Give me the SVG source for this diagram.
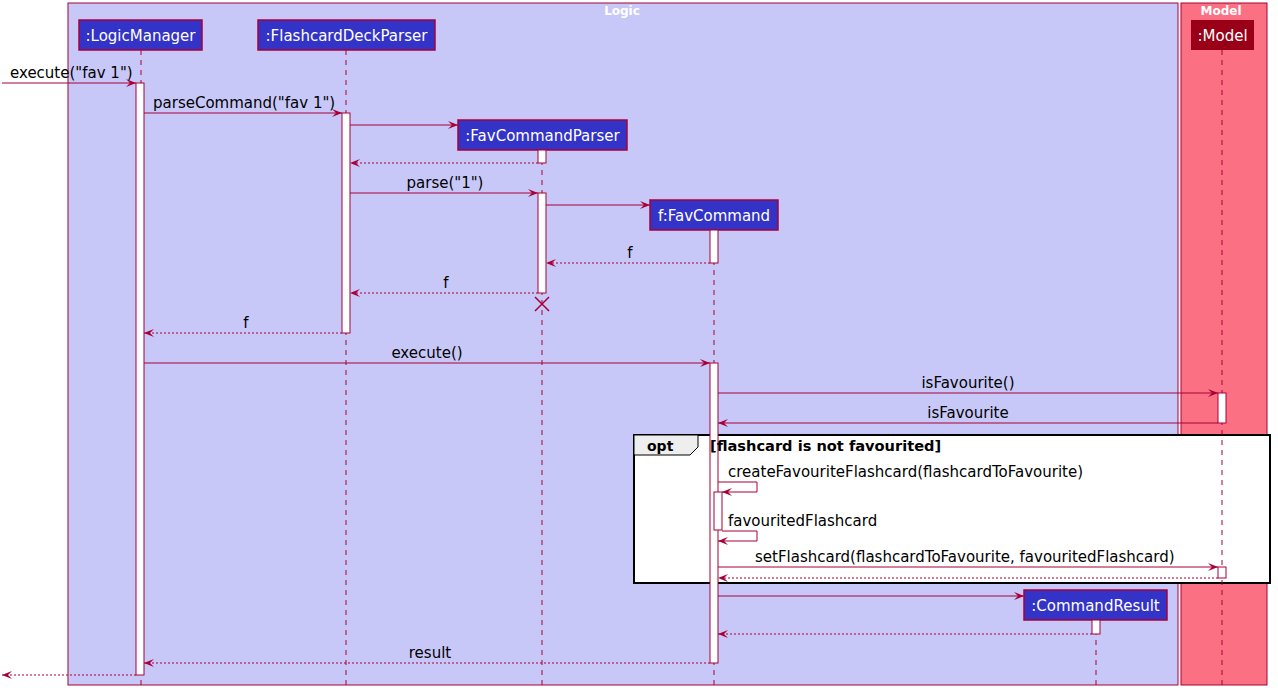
<svg xmlns="http://www.w3.org/2000/svg" width="1278" height="698" viewBox="0 0 1278 698">
<style>
.lbl{font-family:"DejaVu Sans","Liberation Sans",sans-serif;font-size:15px;fill:#000}
.ptxt{font-family:"DejaVu Sans","Liberation Sans",sans-serif;font-size:15px;fill:#fff}
.btitle{font-family:"DejaVu Sans","Liberation Sans",sans-serif;font-size:12px;font-weight:bold;fill:#fff}
.part{fill:#3333C8;stroke:#A80036;stroke-width:1.5}
.life{stroke:#A80036;stroke-width:1;stroke-dasharray:5,5}
.act{fill:#fff;stroke:#A80036;stroke-width:1}
.msg{stroke:#A80036;stroke-width:1;fill:none}
.ret{stroke:#A80036;stroke-width:1;fill:none;stroke-dasharray:2,2}
.bold{font-family:"DejaVu Sans","Liberation Sans",sans-serif;font-size:14px;font-weight:bold;fill:#000}
.guard{font-family:"DejaVu Sans","Liberation Sans",sans-serif;font-size:14.6px;font-weight:bold;fill:#000}
</style>
<defs>
<marker id="arr" markerWidth="11" markerHeight="10" refX="10" refY="4" orient="auto" markerUnits="userSpaceOnUse">
<path d="M0,0 L10,4 L0,8 L4,4 Z" fill="#A80036"/>
</marker>
</defs>
<rect width="1278" height="698" fill="#fff"/>
<g id="box-logic">
<rect x="68" y="3" width="1110" height="682" fill="#C8C8F8" stroke="#A80036" stroke-width="1"/>
<text class="btitle" x="622" y="15" text-anchor="middle">Logic</text>
</g>
<g id="box-model">
<rect x="1181" y="3" width="86" height="682" fill="#FB7083" stroke="#A80036" stroke-width="1"/>
<text class="btitle" x="1221" y="15" text-anchor="middle">Model</text>
</g>
<g id="opt-frame">
<rect x="634" y="435" width="636" height="148" fill="#fff" stroke="#000" stroke-width="2"/>
<path d="M634,435 L698,435 L698,447 L690,455 L634,455 Z" fill="#EEEEEE" stroke="#000" stroke-width="1"/>
</g>
<g id="lifelines">
<line class="life" x1="141" y1="50" x2="141" y2="690"/>
<line class="life" x1="346" y1="50" x2="346" y2="690"/>
<line class="life" x1="542" y1="150" x2="542" y2="690"/>
<line class="life" x1="714" y1="230" x2="714" y2="690"/>
<line class="life" x1="1096" y1="620" x2="1096" y2="690"/>
<line class="life" x1="1222" y1="50" x2="1222" y2="690"/>
</g>
<g id="p-logicmanager">
<rect class="part" x="79" y="20" width="123" height="30"/>
<text class="ptxt" x="140.5" y="41" text-anchor="middle">:LogicManager</text>
</g>
<g id="p-flashcarddeckparser">
<rect class="part" x="258" y="20" width="177" height="30"/>
<text class="ptxt" x="346.5" y="41" text-anchor="middle">:FlashcardDeckParser</text>
</g>
<g id="p-favcommandparser">
<rect class="part" x="458" y="120" width="169" height="30"/>
<text class="ptxt" x="542.5" y="141" text-anchor="middle">:FavCommandParser</text>
</g>
<g id="p-favcommand">
<rect class="part" x="650" y="200" width="128" height="30"/>
<text class="ptxt" x="714" y="221" text-anchor="middle">f:FavCommand</text>
</g>
<g id="p-commandresult">
<rect class="part" x="1024" y="590" width="143" height="30"/>
<text class="ptxt" x="1095.5" y="611" text-anchor="middle">:CommandResult</text>
</g>
<g id="p-model">
<rect x="1191" y="20" width="63" height="30" fill="#990018"/>
<text class="ptxt" x="1222.5" y="41" text-anchor="middle">:Model</text>
</g>
<g id="activations">
<rect class="act" x="136" y="83" width="8" height="592"/>
<rect class="act" x="342" y="113" width="8" height="220"/>
<rect class="act" x="538" y="150" width="8" height="13"/>
<rect class="act" x="538" y="193" width="8" height="100"/>
<rect class="act" x="710" y="230" width="8" height="33"/>
<rect class="act" x="710" y="363" width="8" height="300"/>
<rect class="act" x="714" y="492" width="8" height="38"/>
<rect class="act" x="1218" y="393" width="8" height="30"/>
<rect class="act" x="1218" y="567" width="8" height="11"/>
<rect class="act" x="1092" y="620" width="8" height="14"/>
</g>
<g id="opt-labels">
<text class="bold" x="647" y="451">opt</text>
<text class="guard" x="710" y="451">[flashcard is not favourited]</text>
</g>
<g id="connectors">
<line class="msg" x1="2" y1="83" x2="136" y2="83" marker-end="url(#arr)"/>
<text class="lbl" x="10" y="78">execute("fav 1")</text>
<line class="msg" x1="144" y1="113" x2="342" y2="113" marker-end="url(#arr)"/>
<text class="lbl" x="153" y="108">parseCommand("fav 1")</text>
<line class="msg" x1="350" y1="125" x2="458" y2="125" marker-end="url(#arr)"/>
<line class="ret" x1="538" y1="163" x2="350" y2="163" marker-end="url(#arr)"/>
<line class="msg" x1="350" y1="193" x2="538" y2="193" marker-end="url(#arr)"/>
<text class="lbl" x="445" y="188" text-anchor="middle">parse("1")</text>
<line class="msg" x1="546" y1="205" x2="650" y2="205" marker-end="url(#arr)"/>
<line class="ret" x1="710" y1="263" x2="546" y2="263" marker-end="url(#arr)"/>
<text class="lbl" x="630" y="258" text-anchor="middle">f</text>
<line class="ret" x1="538" y1="293" x2="350" y2="293" marker-end="url(#arr)"/>
<text class="lbl" x="446" y="288" text-anchor="middle">f</text>
<path d="M535,297 L549,311 M549,297 L535,311" stroke="#A80036" stroke-width="1.5" fill="none"/>
<line class="ret" x1="342" y1="333" x2="144" y2="333" marker-end="url(#arr)"/>
<text class="lbl" x="246" y="328" text-anchor="middle">f</text>
<line class="msg" x1="144" y1="363" x2="710" y2="363" marker-end="url(#arr)"/>
<text class="lbl" x="427" y="358" text-anchor="middle">execute()</text>
<line class="msg" x1="718" y1="393" x2="1218" y2="393" marker-end="url(#arr)"/>
<text class="lbl" x="968" y="388" text-anchor="middle">isFavourite()</text>
<line class="msg" x1="1218" y1="423" x2="718" y2="423" marker-end="url(#arr)"/>
<text class="lbl" x="968" y="418" text-anchor="middle">isFavourite</text>
<path class="msg" d="M718,482 L757,482 L757,492 L722,492" marker-end="url(#arr)"/>
<text class="lbl" x="728" y="477">createFavouriteFlashcard(flashcardToFavourite)</text>
<path class="msg" d="M722,531 L757,531 L757,541 L718,541" marker-end="url(#arr)"/>
<text class="lbl" x="728" y="526">favouritedFlashcard</text>
<line class="msg" x1="718" y1="567" x2="1218" y2="567" marker-end="url(#arr)"/>
<text class="lbl" x="755" y="562">setFlashcard(flashcardToFavourite, favouritedFlashcard)</text>
<line class="ret" x1="1218" y1="578" x2="718" y2="578" marker-end="url(#arr)"/>
<line class="msg" x1="718" y1="596" x2="1024" y2="596" marker-end="url(#arr)"/>
<line class="ret" x1="1092" y1="634" x2="718" y2="634" marker-end="url(#arr)"/>
<line class="ret" x1="710" y1="663" x2="144" y2="663" marker-end="url(#arr)"/>
<text class="lbl" x="430" y="658" text-anchor="middle">result</text>
<line class="ret" x1="136" y1="675" x2="2" y2="675" marker-end="url(#arr)"/>
</g>
</svg>
